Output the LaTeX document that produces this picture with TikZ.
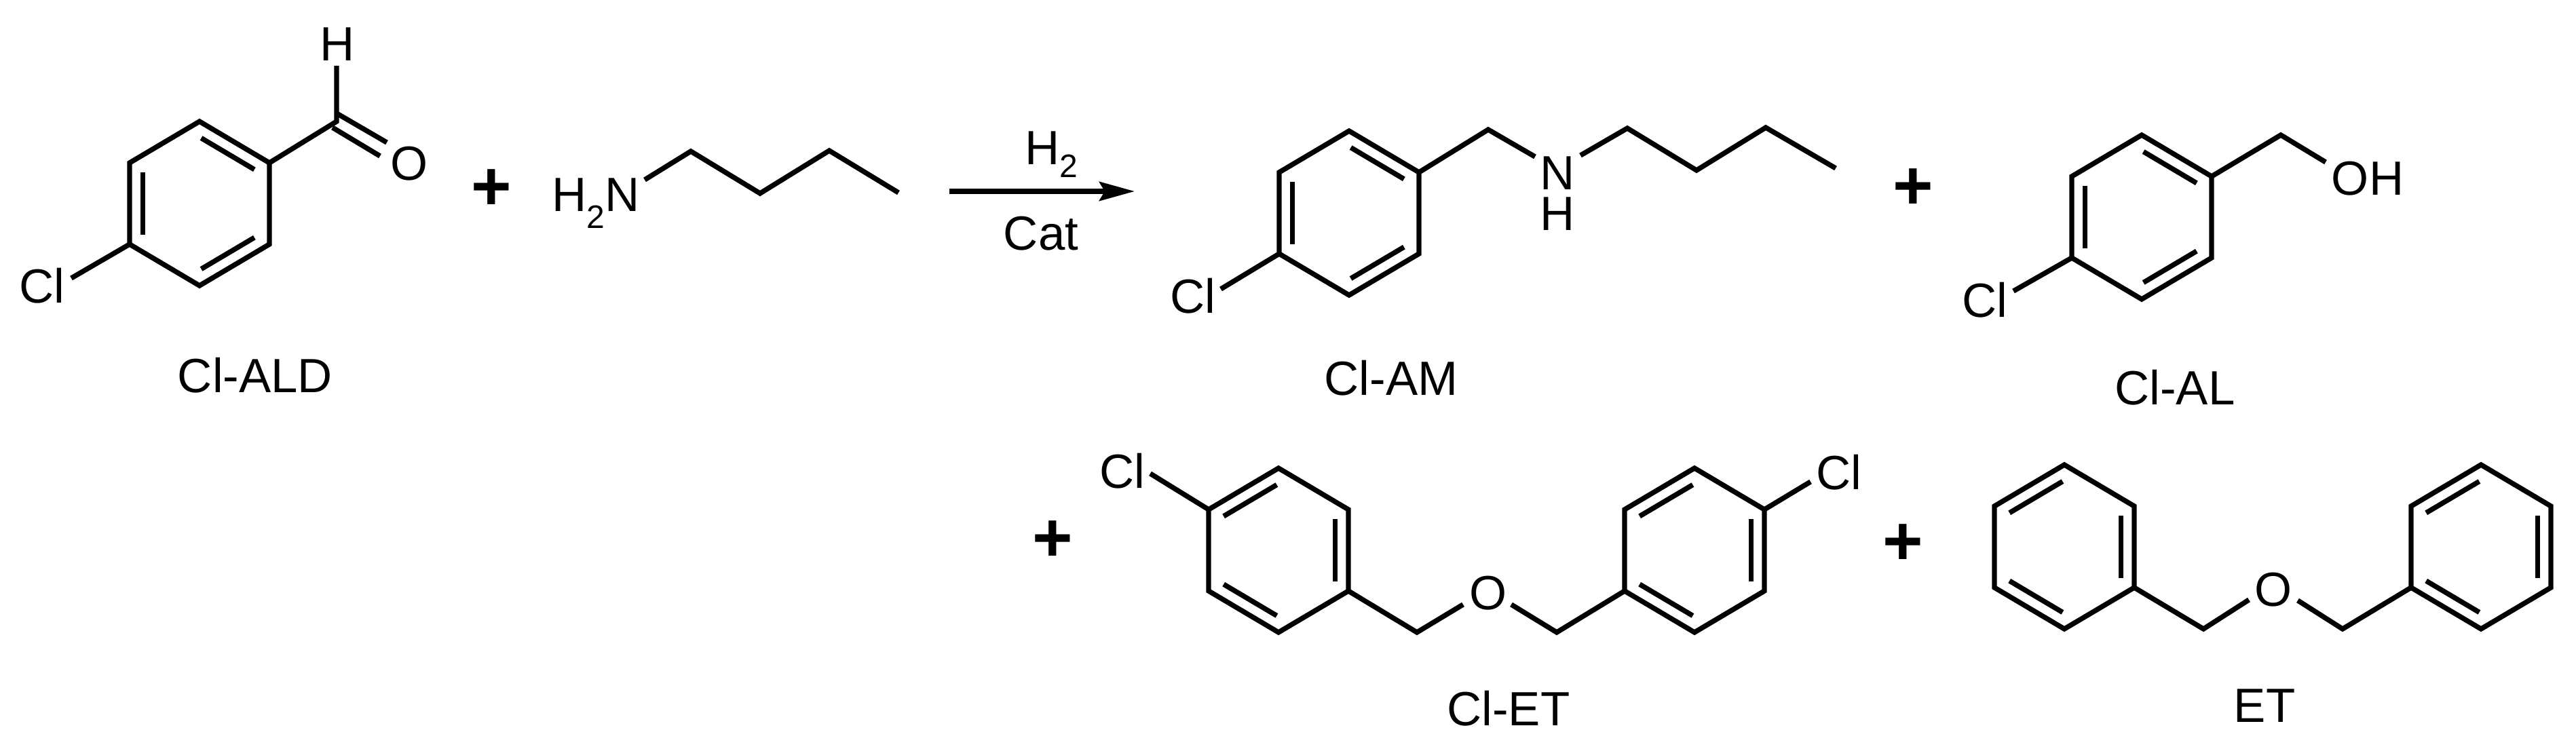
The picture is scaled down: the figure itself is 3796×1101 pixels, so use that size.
\documentclass[tikz,border=0pt]{standalone}
\usepackage{fontspec}
\setmainfont{Liberation Sans}
\usetikzlibrary{calc,arrows.meta}
\newcommand{\subtwo}[1]{\raisebox{#1}{\fontsize{24}{24}\selectfont 2}}
\tikzset{
  bond/.style={line width=3.7pt,line cap=butt,line join=miter,black},
  innerbond/.style={bond,shorten <=1.5pt,shorten >=1.5pt},
  atom/.style={inner sep=0pt,outer sep=0pt,anchor=base,font=\fontsize{35.4}{40}\selectfont},
  plus/.style={inner sep=0pt,outer sep=0pt,anchor=center,font=\fontsize{51}{55}\selectfont\bfseries},
  rxn/.style={line width=3.7pt,-{Stealth[length=26pt,width=14pt,inset=4pt]}}
}
% name, centre x, centre y
\newcommand{\benzene}[3]{
  \coordinate (#1-c) at (#2,#3);
  \coordinate (#1-a) at ({#2},{#3-121});
  \coordinate (#1-b) at ({#2+103},{#3-60});
  \coordinate (#1-cc) at ({#2+103},{#3+60});
  \coordinate (#1-d) at ({#2},{#3+121});
  \coordinate (#1-e) at ({#2-103},{#3+60});
  \coordinate (#1-f) at ({#2-103},{#3-60});
  \draw[bond] (#1-a)--(#1-b)--(#1-cc)--(#1-d)--(#1-e)--(#1-f)--cycle;
}
\newcommand{\dbl}[3]{\draw[innerbond] ($(#1-#2)!.19!(#1-c)$)--($(#1-#3)!.19!(#1-c)$);}
% inner double bonds: upper right, lower right, left
\newcommand{\kekA}[1]{\dbl{#1}{a}{b}\dbl{#1}{cc}{d}\dbl{#1}{e}{f}}
% inner double bonds: upper left, right, lower left
\newcommand{\kekB}[1]{\dbl{#1}{f}{a}\dbl{#1}{b}{cc}\dbl{#1}{e}{d}}
\begin{document}
\begin{tikzpicture}[x=0.5pt,y=-0.5pt]
\useasboundingbox (0,0) rectangle (3796,1101);
% --- Cl-ALD
\benzene{ald}{294}{300}\kekA{ald}
\coordinate (aldC) at (496,179);
\node[atom] (aldH) at (497,90) {H};
\node[atom] (aldO) at (603,266) {O};
\node[atom] (aldCl) at (62,447) {Cl};
\node[atom] (aldName) at (376,578) {Cl-ALD};
\coordinate (aldHb) at (496,97);
\coordinate (aldCu) at (496,167);
\coordinate (aldOu) at (570,210);
\coordinate (aldCd) at (490,188);
\coordinate (aldOd) at (560,230);
\coordinate (aldClb) at (105,410);
\draw[bond] (ald-b)--(aldC)--(aldHb);
\draw[bond] (aldCu)--(aldOu);
\draw[bond] (aldCd)--(aldOd);
\draw[bond] (ald-e)--(aldClb);
\node[plus] (p1) at (724,280) {+};
% --- butylamine
\node[atom] (amN) at (878,312) {H\subtwo{-12.5pt}N};
\coordinate (am0) at (950,265);
\coordinate (am1) at (1018,223);
\coordinate (am2) at (1120,285);
\coordinate (am3) at (1222,222);
\coordinate (am4) at (1324,284);
\draw[bond] (am0)--(am1)--(am2)--(am3)--(am4);
% --- reaction arrow
\coordinate (arrA) at (1399,282);
\coordinate (arrB) at (1672,282);
\draw[rxn] (arrA)--(arrB);
\node[atom] (rH) at (1549,243) {H\subtwo{-9.5pt}};
\node[atom] (rCat) at (1534,369) {Cat};
% --- Cl-AM
\benzene{am}{1988}{314}\kekA{am}
\node[atom] (cmCl) at (1758,462) {Cl};
\coordinate (cmClb) at (1799,426);
\draw[bond] (am-e)--(cmClb);
\node[atom] (cmN) at (2295,280) {N};
\node[atom] (cmH) at (2295,340) {H};
\coordinate (cm1) at (2193,191);
\coordinate (cm2) at (2262,231);
\coordinate (cm3) at (2329,229);
\coordinate (cm4) at (2398,189);
\coordinate (cm5) at (2500,251);
\coordinate (cm6) at (2602,188);
\coordinate (cm7) at (2705,248);
\draw[bond] (am-b)--(cm1)--(cm2);
\draw[bond] (cm3)--(cm4)--(cm5)--(cm6)--(cm7);
\node[atom] (cmName) at (2050,582) {Cl-AM};
\node[plus] (p2) at (2819,279) {+};
% --- Cl-AL
\benzene{al}{3156}{320}\kekA{al}
\node[atom] (alCl) at (2925,467) {Cl};
\coordinate (alClb) at (2967,429);
\draw[bond] (al-e)--(alClb);
\coordinate (al1) at (3361,199);
\coordinate (al2) at (3427,239);
\draw[bond] (al-b)--(al1)--(al2);
\node[atom] (alOH) at (3489,288) {OH};
\node[atom] (alName) at (3205,596) {Cl-AL};
% --- Cl-ET
\node[plus] (p3) at (1551,798) {+};
\benzene{el}{1884}{811}\kekB{el}
\benzene{er}{2497}{811}\kekB{er}
\node[atom] (elCl) at (1654,719) {Cl};
\node[atom] (erCl) at (2710,721) {Cl};
\coordinate (elClb) at (1695,698);
\coordinate (erClb) at (2668,710);
\draw[bond] (el-f)--(elClb);
\draw[bond] (er-b)--(erClb);
\node[atom] (eO) at (2193,898) {O};
\coordinate (e1) at (2088,932);
\coordinate (e2) at (2156,891);
\coordinate (e3) at (2227,891);
\coordinate (e4) at (2294,932);
\draw[bond] (el-cc)--(e1)--(e2);
\draw[bond] (e3)--(e4)--(er-e);
\node[atom] (eName) at (2223,1069) {Cl-ET};
% --- ET
\node[plus] (p4) at (2804,803) {+};
\benzene{tl}{3042}{806}\kekB{tl}
\benzene{tr}{3656}{806}\kekB{tr}
\node[atom] (tO) at (3350,893) {O};
\coordinate (t1) at (3247,927);
\coordinate (t2) at (3314,884);
\coordinate (t3) at (3386,885);
\coordinate (t4) at (3452,927);
\draw[bond] (tl-cc)--(t1)--(t2);
\draw[bond] (t3)--(t4)--(tr-e);
\node[atom] (tName) at (3337,1064) {ET};
\end{tikzpicture}
\end{document}
